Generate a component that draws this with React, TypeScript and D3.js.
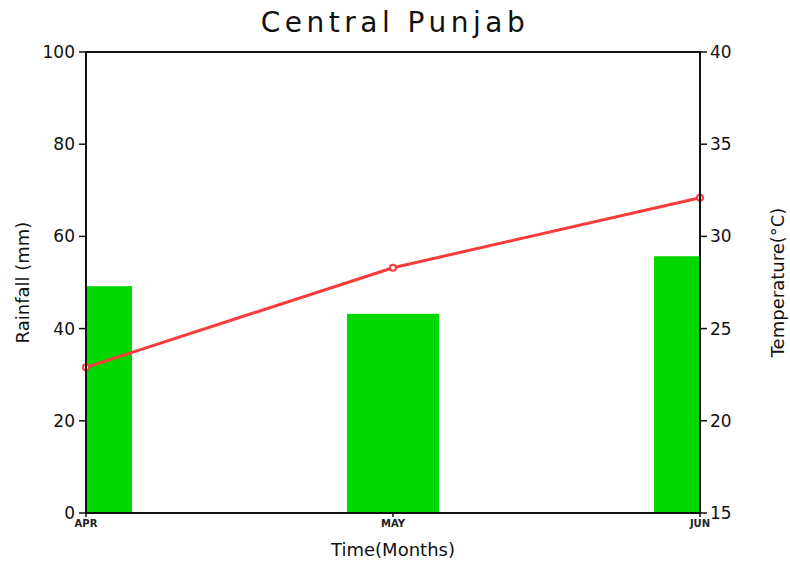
import React from "react";
import * as d3 from "d3";

const months = ["APR", "MAY", "JUN"];
const rainfall = [49.2, 43.2, 55.7];
const temperature = [22.9, 28.3, 32.1];
const rainTicks = [0, 20, 40, 60, 80, 100];
const tempTicks = [15, 20, 25, 30, 35, 40];

const W = 790, H = 564;
const L = 86, R = 700, T = 52, B = 513;
const font = "'DejaVu Sans', sans-serif";

export default function App() {
  const x = d3.scalePoint<string>().domain(months).range([L, R]);
  const yR = d3.scaleLinear().domain([0, 100]).range([B, T]);
  const yT = d3.scaleLinear().domain([15, 40]).range([B, T]);
  const step = x.step();
  const bw = step * 0.3;
  const line = d3.line<number>().x((_, i) => x(months[i])!).y(d => yT(d));

  return (
    <svg width={W} height={H} style={{ position: "absolute", left: 0, top: 0, background: "#fff" }}>
      <defs>
        <clipPath id="pa"><rect x={L} y={T} width={R - L} height={B - T} /></clipPath>
      </defs>
      <g clipPath="url(#pa)">
        {rainfall.map((v, i) => (
          <rect key={i} x={x(months[i])! - bw / 2} y={yR(v)} width={bw} height={B - yR(v)} fill="#00d800" />
        ))}
      </g>
      <path d={line(temperature)!} fill="none" stroke="#f83c3c" strokeWidth={3} />
      {temperature.map((v, i) => (
        <circle key={i} cx={x(months[i])!} cy={yT(v)} r={3} fill="#fff" stroke="#f83c3c" strokeWidth={2} />
      ))}
      <rect x={L} y={T} width={R - L} height={B - T} fill="none" stroke="#111" strokeWidth={2} />
      {rainTicks.map(t => (
        <g key={t}>
          <line x1={L - 7} x2={L} y1={yR(t)} y2={yR(t)} stroke="#111" strokeWidth={1.5} />
          <text x={L - 11} y={yR(t)} dy="0.35em" textAnchor="end" fontSize={17} fontFamily={font} fill="#111">{t}</text>
        </g>
      ))}
      {tempTicks.map(t => (
        <g key={t}>
          <line x1={R} x2={R + 7} y1={yT(t)} y2={yT(t)} stroke="#111" strokeWidth={1.5} />
          <text x={R + 10} y={yT(t)} dy="0.35em" textAnchor="start" fontSize={17} fontFamily={font} fill="#111">{t}</text>
        </g>
      ))}
      {months.map(m => (
        <g key={m}>
          <line x1={x(m)!} x2={x(m)!} y1={B} y2={B + 4} stroke="#111" strokeWidth={1.5} />
          <text x={x(m)!} y={B + 14} textAnchor="middle" fontSize={10} fontWeight="bold" fontFamily={font} fill="#222">{m}</text>
        </g>
      ))}
      <text x={(L + R) / 2 + 2} y={32} textAnchor="middle" fontSize={28} fontFamily={font} fill="#111" letterSpacing={4.5}>Central Punjab</text>
      <text x={(L + R) / 2} y={556} textAnchor="middle" fontSize={18} fontFamily={font} fill="#111">Time(Months)</text>
      <text transform={`translate(29,${(T + B) / 2}) rotate(-90)`} textAnchor="middle" fontSize={18} fontFamily={font} fill="#111">Rainfall (mm)</text>
      <text transform={`translate(784,${(T + B) / 2}) rotate(-90)`} textAnchor="middle" fontSize={18} fontFamily={font} fill="#111">Temperature(°C)</text>
    </svg>
  );
}
